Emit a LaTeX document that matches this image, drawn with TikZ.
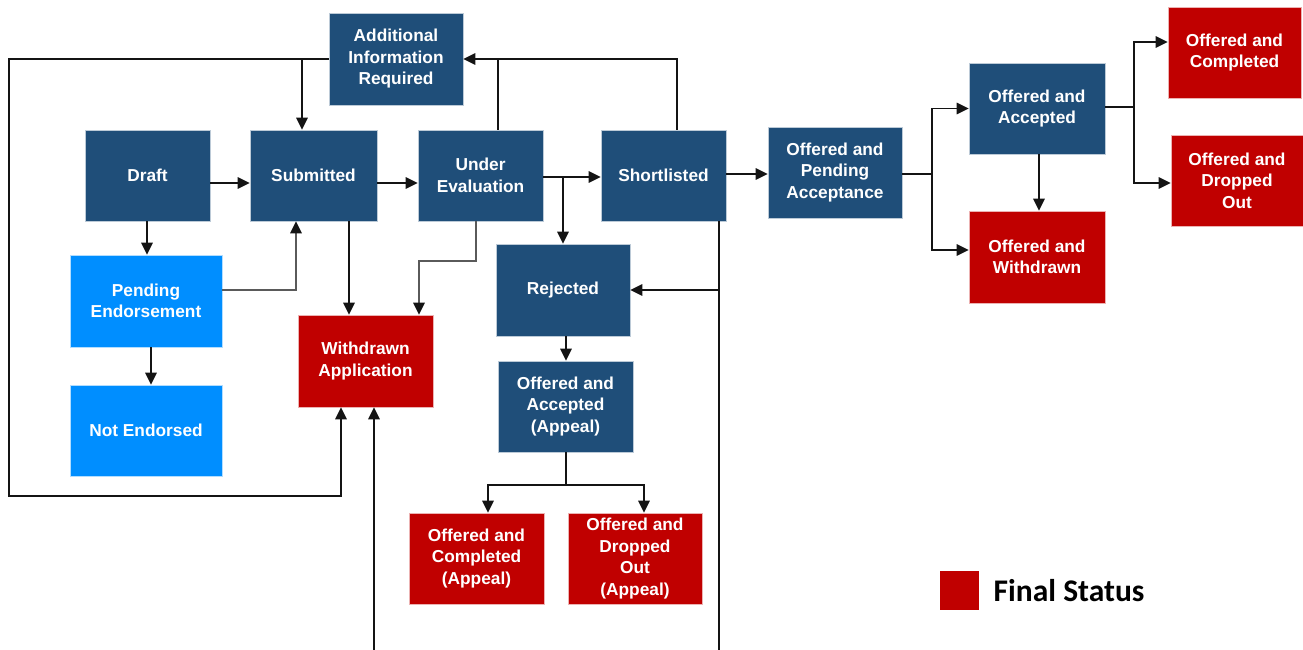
\documentclass[tikz,border=0pt]{standalone}
\usepackage{fontspec}
\setmainfont{Liberation Sans}
\newfontfamily\legendfont{Carlito}
\usetikzlibrary{arrows.meta}
\definecolor{dblue}{RGB}{31,78,121}
\definecolor{lblue}{RGB}{0,142,255}
\definecolor{fred}{RGB}{192,0,0}
\definecolor{lineblk}{RGB}{20,20,20}
\definecolor{linegry}{RGB}{90,90,90}
\tikzset{
  box/.style={draw=white!70!#1, line width=0.6pt, fill=#1, text=white, font=\fontsize{17.3}{21.5}\selectfont\bfseries,
    align=center, inner sep=0pt, anchor=center},
  conn/.style={draw=lineblk, line width=1.3pt},
  arr/.style={conn, -{Triangle[length=12pt,width=11.5pt]}},
  connG/.style={draw=linegry, line width=1.3pt},
  arrG/.style={connG, -{Triangle[length=12pt,width=11.5pt,color=lineblk]}},
}
\begin{document}
\begin{tikzpicture}[x=1pt,y=-1pt]
\useasboundingbox (0,0) rectangle (1303,650);
% nodes
\node[box=dblue, minimum width=134, minimum height=92] (air) at (396,59) {Additional\\Information\\Required};
\node[box=dblue, minimum width=125, minimum height=91] (draft) at (147.5,175.5) {Draft};
\node[box=dblue, minimum width=127, minimum height=91] (sub) at (313.5,175.5) {Submitted};
\node[box=dblue, minimum width=125, minimum height=91] (ue) at (480.5,175.5) {Under\\Evaluation};
\node[box=dblue, minimum width=125, minimum height=91] (sl) at (663.5,175.5) {Shortlisted};
\node[box=dblue, minimum width=134, minimum height=91] (opa) at (835,172.5) {Offered and\\Pending\\Acceptance};
\node[box=dblue, minimum width=136, minimum height=91] (oaa) at (1037,108.5) {Offered and\\Accepted};
\node[box=fred, minimum width=136, minimum height=92] (oaw) at (1037,257) {Offered and\\Withdrawn};
\node[box=fred, minimum width=133, minimum height=91] (oc) at (1234.5,52.5) {Offered and\\Completed};
\node[box=fred, minimum width=132, minimum height=91] (odo) at (1237,180.5) {Offered and\\Dropped\\Out};
\node[box=lblue, minimum width=152, minimum height=92] (pe) at (146,301) {Pending\\Endorsement};
\node[box=lblue, minimum width=152, minimum height=91] (ne) at (146,430.5) {Not Endorsed};
\node[box=fred, minimum width=135, minimum height=92] (wa) at (365.5,361) {Withdrawn\\Application};
\node[box=dblue, minimum width=134, minimum height=92] (rej) at (563,290) {Rejected};
\node[box=dblue, minimum width=135, minimum height=91] (oaap) at (565.5,406.5) {Offered and\\Accepted\\(Appeal)};
\node[box=fred, minimum width=135, minimum height=91] (ocap) at (476.5,558.5) {Offered and\\Completed\\(Appeal)};
\node[box=fred, minimum width=134, minimum height=91] (odoap) at (635,558.5) {Offered and\\Dropped\\Out\\(Appeal)};
% legend
\node[fill=fred, minimum width=39, minimum height=39, inner sep=0pt] (leg) at (959.5,590.5) {};
\node[anchor=west, inner sep=0pt, font=\legendfont\fontsize{31.5}{36}\selectfont\bfseries] (legtxt) at (993.5,591) {Final Status};
% free ends
\coordinate (bot1) at (374,650);
\coordinate (bot2) at (719,650);
% connectors
\draw[arr] (air.west) -| (9,496) -| (wa.south -| 341,0);
\draw[arr] (air.west -| 302,0) -- (sub.north -| 302,0);
\draw[arr] (draft.east |- 0,183) -- (sub.west |- 0,183);
\draw[arr] (sub.east |- 0,183) -- (ue.west |- 0,183);
\draw[arr] (ue.east |- 0,177) -- (sl.west |- 0,177);
\draw[arr] (563,177) -- (rej.north);
\draw[arr] (sl.east |- 0,174) -- (opa.west |- 0,174);
\draw[conn] (opa.east |- 0,174) -- (932,174);
\draw[arr] (932,174) |- (oaa.west);
\draw[arr] (932,174) |- (oaw.west |- 0,250);
\draw[arr] (oaa.south -| 1039,0) -- (oaw.north -| 1039,0);
\draw[conn] (oaa.east |- 0,107) -- (1134,107);
\draw[arr] (1134,107) |- (oc.west |- 0,42);
\draw[arr] (1134,107) |- (odo.west |- 0,183);
\draw[arr] (sl.north -| 677,0) |- (air.east);
\draw[conn] (ue.north -| 498,0) -- (498,59);
\draw[arr] (sub.south -| 349,0) -- (wa.north -| 349,0);
\draw[arrG] (ue.south -| 476,0) |- (419,261) -- (wa.north -| 419,0);
\draw[arrG] (pe.east |- 0,290) -| (sub.south -| 296,0);
\draw[arr] (draft.south -| 147,0) -- (pe.north -| 147,0);
\draw[arr] (pe.south -| 151,0) -- (ne.north -| 151,0);
\draw[conn] (sl.south -| 719,0) -- (bot2);
\draw[arr] (719,290) -- (rej.east);
\draw[arr] (bot1) -- (wa.south -| 374,0);
\draw[arr] (rej.south -| 566,0) -- (oaap.north -| 566,0);
\draw[conn] (oaap.south -| 566,0) -- (566,485);
\draw[arr] (566,485) -| (ocap.north -| 488,0);
\draw[arr] (566,485) -| (odoap.north -| 644,0);
\end{tikzpicture}
\end{document}
